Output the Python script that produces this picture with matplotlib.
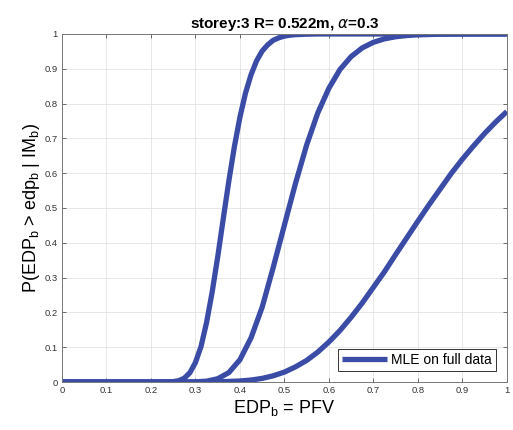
import matplotlib.pyplot as plt

plt.rcParams['font.family'] = ['Liberation Sans', 'DejaVu Sans']
plt.rcParams['mathtext.default'] = 'regular'

# values
x1 = [0, 0.2, 0.225, 0.2375, 0.25, 0.2625, 0.275, 0.2875, 0.3, 0.3125, 0.325,
      0.3375, 0.35, 0.3625, 0.375, 0.3875, 0.4, 0.4125, 0.425, 0.4375, 0.45,
      0.4625, 0.475, 0.4875, 0.5, 0.5125, 0.525, 0.55, 0.575, 1.0]
y1 = [0, 0, 0.00005, 0.0003, 0.0011, 0.0039, 0.011, 0.0268, 0.056, 0.102, 0.171,
      0.258, 0.359, 0.469, 0.577, 0.676, 0.761, 0.830, 0.883, 0.923, 0.951,
      0.969, 0.982, 0.989, 0.994, 0.9964, 0.998, 0.9994, 1.0, 1.0]

x2 = [0, 0.25, 0.3, 0.325, 0.35, 0.375, 0.4, 0.425, 0.45, 0.475, 0.5, 0.525,
      0.55, 0.575, 0.6, 0.625, 0.65, 0.675, 0.7, 0.725, 0.75, 0.775, 0.8,
      0.85, 0.9, 1.0]
y2 = [0, 0, 0.0005, 0.0024, 0.0094, 0.027, 0.064, 0.127, 0.215, 0.330, 0.451,
      0.571, 0.681, 0.773, 0.844, 0.898, 0.935, 0.960, 0.976, 0.986, 0.992,
      0.9955, 0.9975, 0.9993, 0.9998, 1.0]

x3 = [0, 0.25, 0.3, 0.35, 0.4, 0.425, 0.45, 0.475, 0.5, 0.525, 0.55, 0.575,
      0.6, 0.625, 0.65, 0.675, 0.7, 0.725, 0.75, 0.775, 0.8, 0.825, 0.85,
      0.875, 0.9, 0.925, 0.95, 0.975, 1.0]
y3 = [0, 0, 0.00005, 0.0005, 0.0029, 0.0057, 0.0104, 0.0179, 0.0285, 0.0436,
      0.062, 0.086, 0.115, 0.148, 0.186, 0.227, 0.272, 0.317, 0.366, 0.414,
      0.462, 0.509, 0.554, 0.599, 0.640, 0.678, 0.714, 0.747, 0.777]

ticks = [0, 0.1, 0.2, 0.3, 0.4, 0.5, 0.6, 0.7, 0.8, 0.9, 1]
tick_labels = ['0', '0.1', '0.2', '0.3', '0.4', '0.5', '0.6', '0.7', '0.8', '0.9', '1']

blue = '#3a4ca6'

fig = plt.figure(figsize=(5.13, 4.30), dpi=100)
ax = fig.add_axes([0.1209, 0.1116, 0.867, 0.8094])

style = dict(color=blue, lw=3.8, solid_capstyle='butt', solid_joinstyle='round')
ax.plot(x1, y1, label='MLE on full data', **style)
ax.plot(x2, y2, **style)
ax.plot(x3, y3, **style)

ax.set_xlim(0, 1)
ax.set_ylim(0, 1)
ax.set_xticks(ticks)
ax.set_xticklabels(tick_labels)
ax.set_yticks(ticks)
ax.set_yticklabels(tick_labels)
ax.tick_params(direction='in', top=True, right=True, length=3, width=0.6,
               labelsize=6.8, colors='#555555', labelcolor='#333333', pad=3)
ax.grid(True, color='#e3e3e3', lw=0.6)
for s in ax.spines.values():
    s.set_color('#777777')
    s.set_linewidth(0.7)

ax.set_title(r'storey:3 R= 0.522m, $\mathit{\alpha}$=0.3', fontsize=11,
             fontweight='bold', pad=4)
ax.set_xlabel('EDP$_b$ = PFV', fontsize=13, labelpad=2)
ax.set_ylabel('P(EDP$_b$ > edp$_b$ | IM$_b$)', fontsize=13, labelpad=2)

leg = ax.legend(loc='lower right', fontsize=10, fancybox=False, framealpha=1,
                edgecolor='#333333', handlelength=3.2, borderpad=0.3,
                handletextpad=0.3, borderaxespad=0.8)
leg.get_frame().set_linewidth(0.7)

fig.savefig('out.png', dpi=100)
